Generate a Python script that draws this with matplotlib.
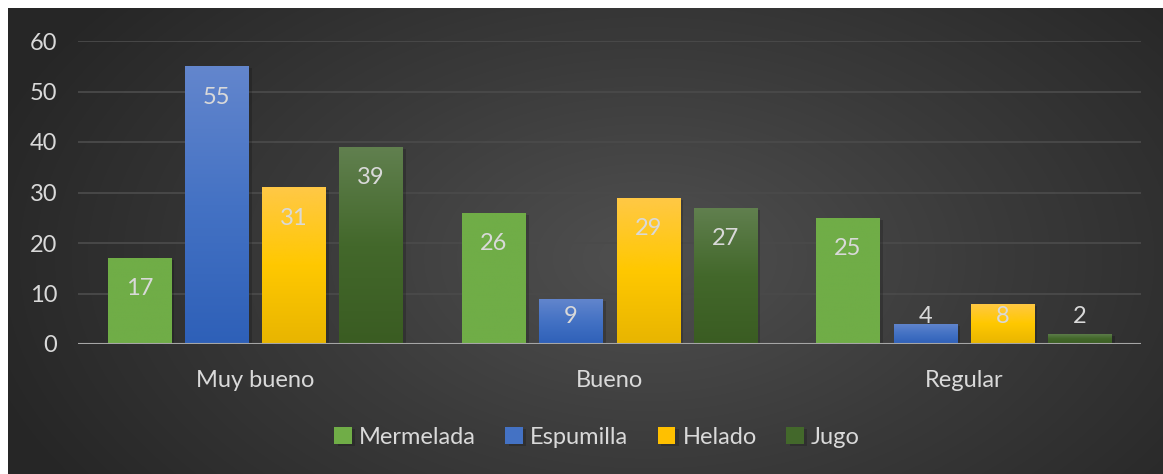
import numpy as np
import matplotlib.pyplot as plt
import matplotlib.patheffects as pe
from matplotlib.colors import LinearSegmentedColormap

plt.rcParams['font.family'] = ['Lato', 'DejaVu Sans']

categories = ['Muy bueno', 'Bueno', 'Regular']
series = ['Mermelada', 'Espumilla', 'Helado', 'Jugo']
mermelada = [17, 26, 25]
espumilla = [55, 9, 4]
helado = [31, 29, 8]
jugo = [39, 27, 2]
values = [mermelada, espumilla, helado, jugo]

# gradient stops (top -> bottom) per series
grads = [
    ['#70AD47', '#70AD47'],
    ['#6386CD', '#4472C4', '#2E60B8'],
    ['#FFC846', '#FFC800', '#E8B500'],
    ['#61804F', '#43682B', '#3A5C22'],
]
solid = ['#70AD47', '#4472C4', '#FFC000', '#43682B']
txt = '#D9D9D9'

fig = plt.figure(figsize=(11.63, 4.74), dpi=100)
fig.patch.set_facecolor('white')

# dark radial background
bg = fig.add_axes([8 / 1163, 0, 1 - 8 / 1163, 1 - 8 / 474])
bg.set_axis_off()
yy, xx = np.mgrid[0:466, 0:1155]
d = np.sqrt(((xx - 640) / 700.0) ** 2 + ((yy - 250) / 420.0) ** 2)
d = np.clip(d, 0, 1)
bgcmap = LinearSegmentedColormap.from_list('bg', ['#505050', '#3a3a3a', '#262626'])
bg.imshow(d, cmap=bgcmap, aspect='auto', extent=[0, 1, 0, 1], origin='upper')
bg.set_xlim(0, 1)
bg.set_ylim(0, 1)

ax = fig.add_axes([78 / 1163, 130 / 474, 1063 / 1163, 303 / 474])
ax.patch.set_alpha(0)
for s in ax.spines.values():
    s.set_visible(False)

x = np.arange(len(categories))
step = 0.218
width = 0.178
offsets = (np.arange(4) - 1.5) * step

for i, name in enumerate(series):
    bars = ax.bar(x + offsets[i], values[i], width, color=solid[i], label=name, zorder=3,
                  path_effects=[pe.SimplePatchShadow(offset=(2.5, -1.5), shadow_rgbFace='black', alpha=0.18),
                                pe.Normal()])
    cmap = LinearSegmentedColormap.from_list('g%d' % i, grads[i])
    grad = np.linspace(0, 1, 256).reshape(-1, 1)
    for b, v in zip(bars, values[i]):
        x0, y0 = b.get_x(), b.get_y()
        im = ax.imshow(grad, cmap=cmap, aspect='auto', zorder=4,
                       extent=[x0, x0 + b.get_width(), y0, y0 + b.get_height()], origin='upper')
        im.set_clip_path(b)
        ly = max(v - 6.1, 5.5)
        ax.text(b.get_x() + b.get_width() / 2, ly, str(v), ha='center', va='center',
                color=txt, fontsize=17, zorder=6)

ax.set_xlim(-0.5, 2.5)
ax.set_ylim(0, 60)
ax.set_yticks(range(0, 61, 10))
ax.yaxis.grid(True, color='#4a4a4a', linewidth=1.3, zorder=0)
ax.axhline(0, color='#a6a6a6', linewidth=1.5, zorder=5)
ax.set_xticks(x)
ax.set_xticklabels(categories)
ax.tick_params(axis='both', length=0, colors=txt, labelsize=17)
ax.tick_params(axis='y', pad=15)
ax.tick_params(axis='x', pad=18.5)

leg = fig.legend(loc='center', bbox_to_anchor=(597 / 1163, 1 - 437 / 474), ncol=4,
                 frameon=False, fontsize=17, handlelength=0.75, handleheight=0.75,
                 handletextpad=0.3, columnspacing=1.25, labelcolor=txt)

fig.savefig('out.png', dpi=100, facecolor=fig.get_facecolor())
